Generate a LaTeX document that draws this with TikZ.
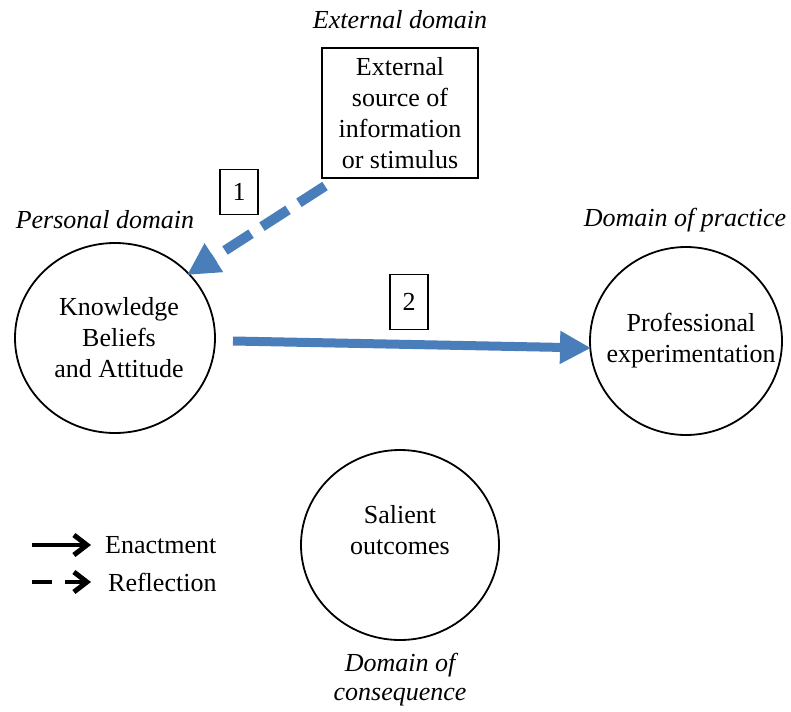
\documentclass[tikz,border=0pt]{standalone}
\usepackage{fontspec}
\setmainfont{Liberation Serif}
\usetikzlibrary{arrows.meta,shapes.geometric}
\definecolor{arrowblue}{HTML}{4A7EBB}
\begin{document}
\begin{tikzpicture}[x=1pt,y=-1pt,
  every node/.style={font=\fontsize{26}{31}\selectfont, inner sep=0pt},
  domainlabel/.style={font=\fontsize{26}{31}\selectfont\itshape, align=center},
  stagebox/.style={draw, line width=1.1pt, minimum width=38pt},
  bubble/.style={draw, ellipse, line width=1.8pt},
  bubbletext/.style={align=center},
  enact/.style={line width=9pt, draw=arrowblue,
    -{Triangle[length=31pt,width=31pt,fill=arrowblue]}},
  reflect/.style={line width=10pt, draw=arrowblue, dash pattern=on 31pt off 13pt,
    -{Triangle[length=32pt,width=32pt,fill=arrowblue]}},
  keyline/.style={line width=4.5pt,
    -{Straight Barb[length=13pt,width=20pt,line width=5pt]}}]
\useasboundingbox (0,0) rectangle (791,711);

% domain headings
\node[domainlabel] (hext) at (400,20) {External domain};
\node[domainlabel] (hper) at (105,220) {Personal domain};
\node[domainlabel] (hpra) at (685,220) {Domain of practice};
\node[domainlabel] (hcon) at (400,680) {Domain of\\[-2pt]consequence};

% external source
\node[draw, line width=1.1pt, minimum width=156pt, minimum height=130pt, align=center]
  (ext) at (400,113) {External\\source of\\information\\or stimulus};

% domain circles
\node[bubble, minimum width=200pt, minimum height=190pt] (know) at (115,338) {};
\node[bubbletext] (knowtext) at (119,338) {Knowledge\\Beliefs\\and Attitude};
\node[bubble, minimum width=192pt, minimum height=188pt] (prof) at (686,341) {};
\node[bubbletext] (proftext) at (691,341) {Professional\\experimentation};
\node[bubble, minimum width=198pt, minimum height=190pt] (sal) at (400,545) {};
\node[bubbletext] (saltext) at (400,530) {Salient\\outcomes};

% numbered stages
\node[stagebox, minimum height=45pt] (one) at (239,192) {1};
\node[stagebox, minimum height=55pt] (two) at (409,302) {2};

% reflection and enactment arrows
\coordinate (rstart) at (325,186);
\coordinate (rend) at (187,275);
\draw[reflect] (rstart) -- (rend);
\coordinate (estart) at (233,341);
\coordinate (eend) at (591,348);
\draw[enact] (estart) -- (eend);

% key
\coordinate (k1a) at (32,545);
\coordinate (k1b) at (91,545);
\coordinate (k2a) at (32,582);
\coordinate (k2b) at (91,582);
\draw[keyline] (k1a) -- (k1b);
\draw[keyline, dash pattern=on 20pt off 13pt] (k2a) -- (k2b);
\node[anchor=west] (kenact) at (105,545) {Enactment};
\node[anchor=west] (krefl) at (108,582) {Reflection};
\end{tikzpicture}
\end{document}
